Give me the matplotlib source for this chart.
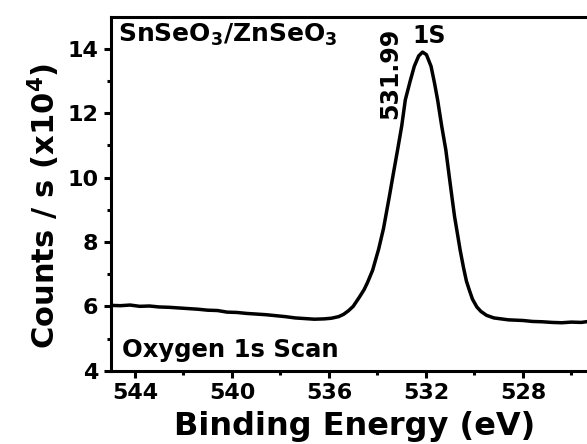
import matplotlib
matplotlib.use("Agg")
from matplotlib import pyplot as plt

# O 1s XPS scan, counts in units of 1e4
energy = [545.0, 544.6, 544.2, 543.8, 543.4, 543.0, 542.6, 542.2, 541.8, 541.4,
          541.0, 540.6, 540.2, 539.8, 539.4, 539.0, 538.6, 538.2, 537.8, 537.4,
          537.0, 536.6, 536.2, 535.9, 535.6, 535.4, 535.2, 535.0, 534.75, 534.55,
          534.41, 534.2, 533.95, 533.75, 533.51, 533.35, 533.17, 533.0, 532.85, 532.65,
          532.48, 532.3, 532.14, 531.98, 531.79, 531.65, 531.52, 531.35, 531.18, 531.05,
          530.93, 530.82, 530.7, 530.59, 530.45, 530.33, 530.2, 530.08, 529.9, 529.73,
          529.5, 529.2, 528.9, 528.6, 528.3, 528.0, 527.6, 527.2, 526.8, 526.4,
          526.0, 525.6, 525.2, 525.0]
counts = [6.03, 6.02, 6.04, 6.00, 6.01, 5.98, 5.97, 5.95, 5.93, 5.91,
          5.88, 5.87, 5.82, 5.81, 5.78, 5.76, 5.74, 5.71, 5.68, 5.64,
          5.62, 5.60, 5.61, 5.63, 5.68, 5.75, 5.86, 6.00, 6.28, 6.52,
          6.74, 7.12, 7.78, 8.42, 9.41, 10.1, 10.86, 11.6, 12.42, 13.0,
          13.46, 13.78, 13.90, 13.82, 13.46, 12.95, 12.42, 11.6, 10.86, 10.1,
          9.41, 8.79, 8.25, 7.75, 7.2, 6.78, 6.48, 6.22, 5.98, 5.84,
          5.72, 5.64, 5.61, 5.58, 5.57, 5.56, 5.53, 5.52, 5.50, 5.49,
          5.51, 5.50, 5.54, 5.53]

xticks_major = [544, 540, 536, 532, 528]
xticks_minor = [542, 538, 534, 530, 526]
yticks_major = [4, 6, 8, 10, 12, 14]
yticks_minor = [5, 7, 9, 11, 13]

plt.rcParams['font.family'] = ['DejaVu Sans']
plt.rcParams['font.weight'] = 'bold'
plt.rcParams['mathtext.fontset'] = 'dejavusans'

fig = plt.figure(figsize=(5.87, 4.44), dpi=100)
ax = fig.add_axes([0.1886, 0.1651, 0.8262, 0.7973])

ax.plot(energy, counts, color='black', lw=2.5, solid_joinstyle='round')

ax.set_xlim(545, 525)
ax.set_ylim(4, 15)
ax.set_xticks(xticks_major)
ax.set_xticks(xticks_minor, minor=True)
ax.set_yticks(yticks_major)
ax.set_yticks(yticks_minor, minor=True)
ax.tick_params(which='major', length=5, width=2.2, labelsize=16, direction='out')
ax.tick_params(which='minor', length=3, width=2.2, direction='out')
ax.tick_params(axis='x', which='major', pad=3.5)
ax.tick_params(axis='y', which='major', pad=4)
for lab in ax.get_xticklabels() + ax.get_yticklabels():
    lab.set_fontweight('bold')
for sp in ax.spines.values():
    sp.set_linewidth(2.2)

ax.set_xlabel('Binding Energy (eV)', fontsize=23, fontweight='bold', va='baseline')
ax.xaxis.set_label_coords(355 / 587, (444 - 435) / 444, transform=fig.transFigure)
ax.set_ylabel(r'Counts / s (x10$^\mathbf{4}$)', fontsize=22, fontweight='bold', va='baseline')
ax.yaxis.set_label_coords(55 / 587, 0.537, transform=fig.transFigure)

ax.text(0.015, 0.929, r'SnSeO$_\mathbf{3}$/ZnSeO$_\mathbf{3}$', transform=ax.transAxes,
        fontsize=18, fontweight='bold', ha='left', va='baseline')
ax.text(0.576, 0.968, '531.99', transform=ax.transAxes, rotation=90,
        fontsize=17, fontweight='bold', ha='center', va='top')
ax.text(0.623, 0.926, '1S', transform=ax.transAxes,
        fontsize=17, fontweight='bold', ha='left', va='baseline')
ax.text(0.0227, 0.0387, 'Oxygen 1s Scan', transform=ax.transAxes,
        fontsize=17.5, fontweight='bold', ha='left', va='baseline')

fig.savefig('out.png', dpi=100, facecolor='white')
